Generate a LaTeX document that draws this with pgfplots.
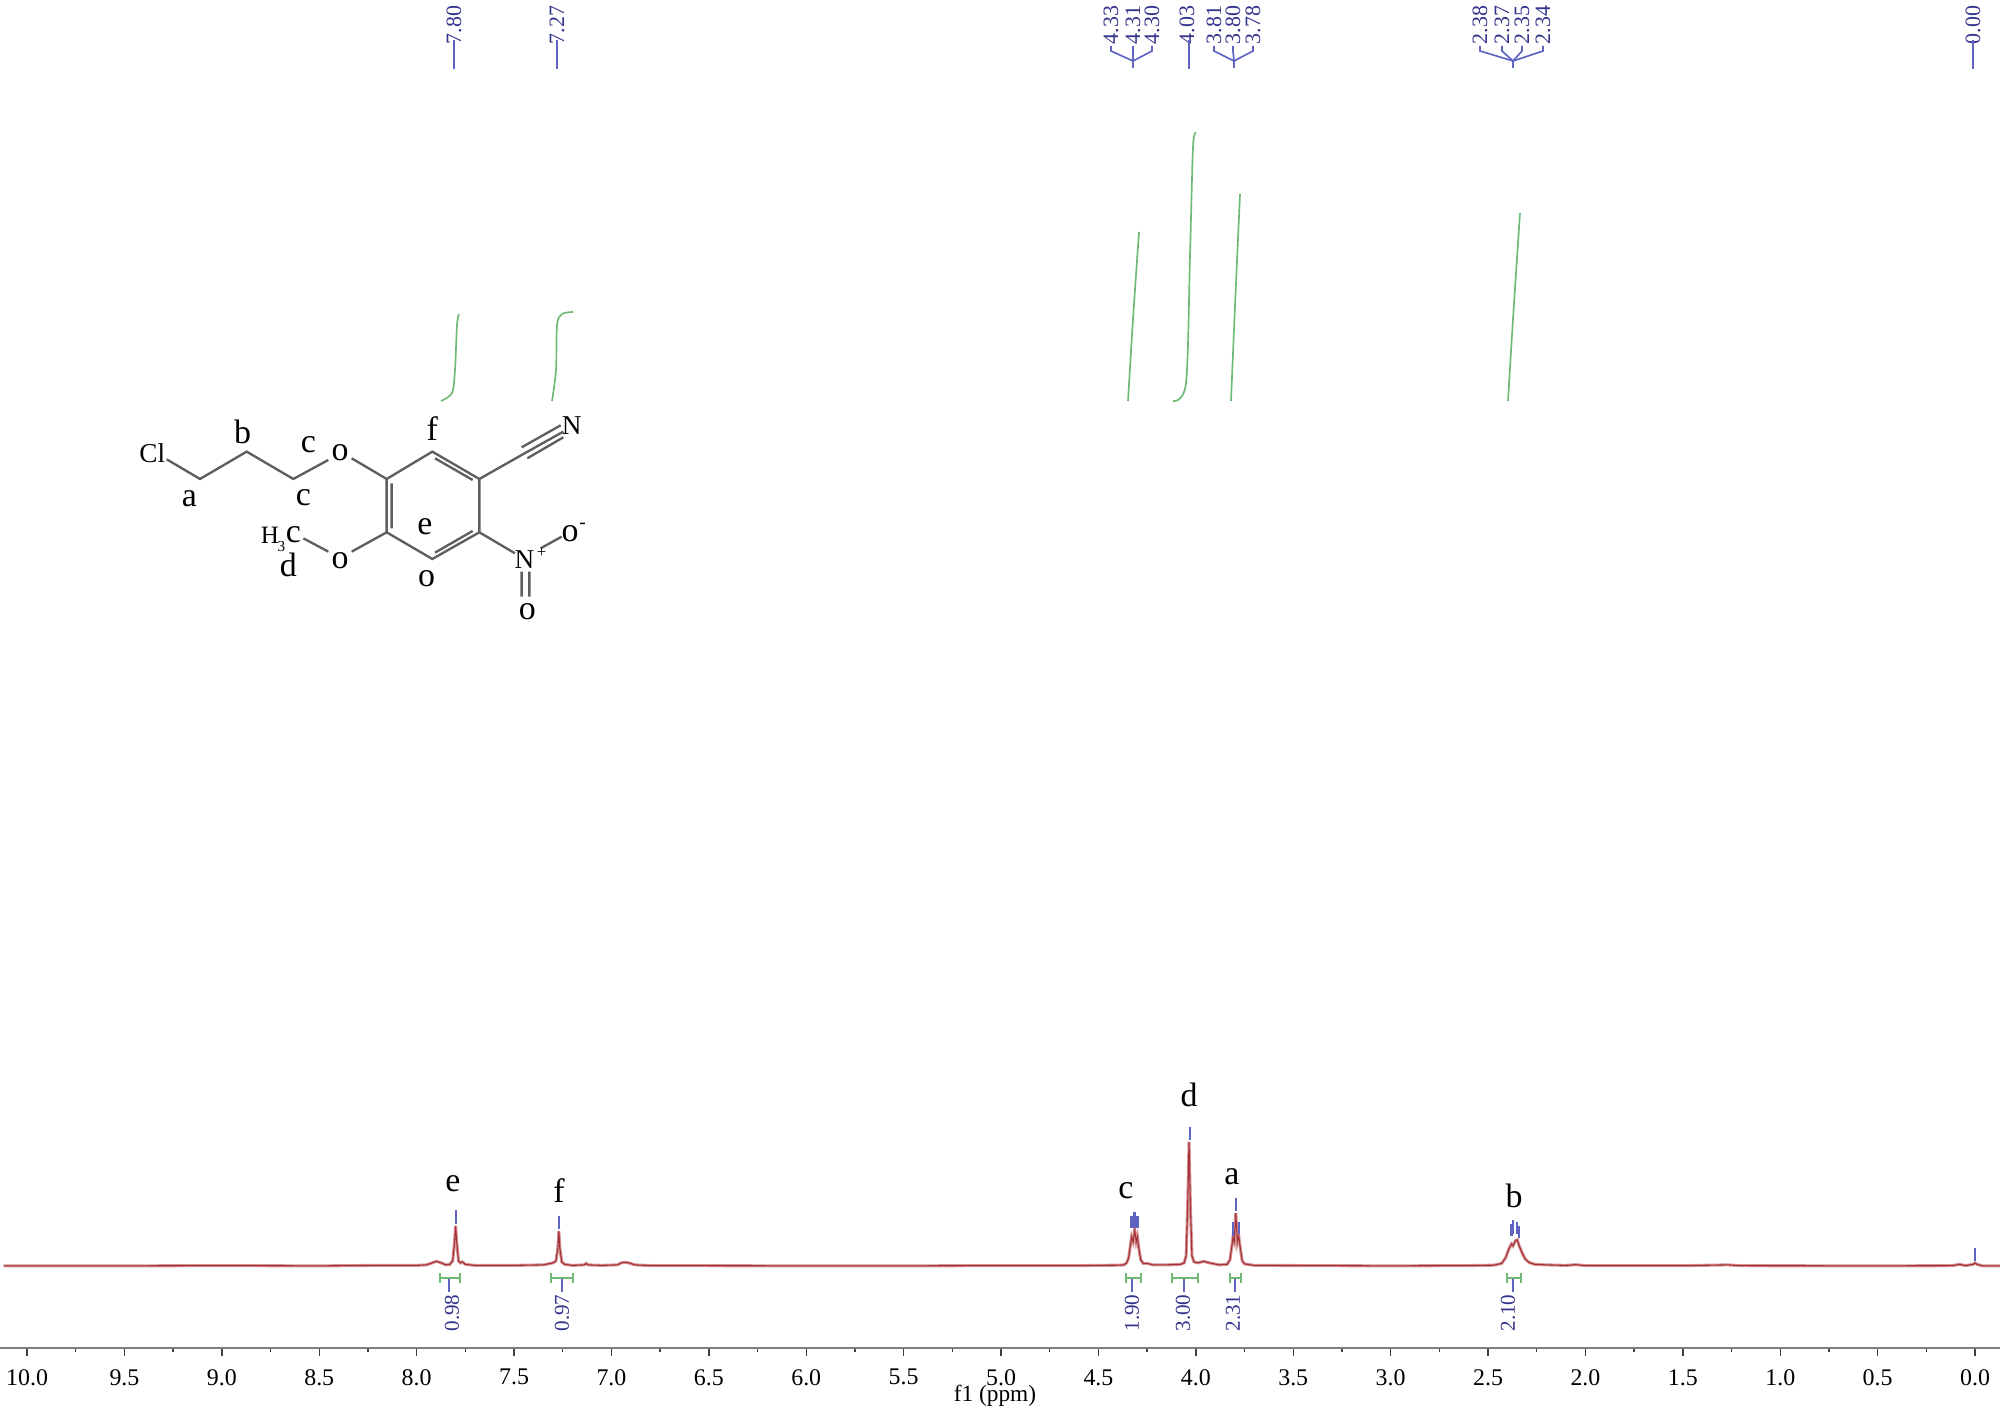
\documentclass[border=0pt]{standalone}
\usepackage{fontspec}
\setmainfont{Liberation Serif}
\usepackage{pgfplots}
\pgfplotsset{compat=1.18}
\definecolor{specdark}{RGB}{165,50,58}
\definecolor{spechalo}{RGB}{214,150,150}
\definecolor{peakblue}{RGB}{95,100,195}
\definecolor{textblue}{RGB}{52,52,140}
\definecolor{intgreen}{RGB}{110,185,115}
\definecolor{bondgray}{RGB}{95,95,95}
\definecolor{axisgray}{RGB}{125,125,125}
% spectrum: ppm, height in image pixels above the baseline
\pgfplotstableread{
x y
10.12 0
9.50 0
9.00 0.3
8.50 0
8.20 0.5
8.00 0.5
7.95 1
7.92 3
7.90 4.5
7.88 3.5
7.85 1
7.83 1.5
7.815 5
7.805 25
7.80 40
7.795 25
7.785 5
7.775 3
7.765 4
7.75 1.5
7.70 0.5
7.50 0.5
7.35 1
7.30 3
7.285 5
7.275 18
7.27 35
7.265 18
7.255 4
7.24 1.5
7.20 0.5
7.14 1
7.13 2.5
7.12 1
7.05 0.5
6.97 1
6.95 3
6.93 3.5
6.91 3
6.88 1
6.80 0.3
6.00 0
5.50 0
5.00 0.3
4.60 0.3
4.40 0.7
4.37 1
4.355 3
4.345 8
4.335 22
4.33 29
4.322 24
4.314 36
4.306 24
4.30 29
4.293 18
4.283 6
4.27 2.5
4.25 2.5
4.22 1
4.15 1
4.08 1.5
4.06 3
4.05 10
4.042 60
4.035 124
4.028 60
4.02 10
4.01 4
3.99 3
3.96 4.5
3.93 3
3.88 1
3.84 1.5
3.825 6
3.815 20
3.81 28
3.803 24
3.795 53
3.787 24
3.78 30
3.772 18
3.762 5
3.75 2
3.70 0.5
3.00 0
2.60 0.3
2.47 0.7
2.43 2.5
2.41 8
2.395 16
2.38 22
2.372 20
2.36 25
2.35 26
2.34 20
2.325 13
2.31 7
2.29 3.5
2.26 1.5
2.20 1
2.10 0.5
2.05 1.2
2.00 0.3
1.50 0.2
1.27 1
1.20 0.2
0.50 0
0.12 0.2
0.08 1.5
0.05 0.3
0.01 1.5
0.00 3
-0.01 1.5
-0.04 0
-0.128 0
}\spectrum
\begin{document}
\begin{tikzpicture}[x=1pt,y=1pt]
\useasboundingbox (0,0) rectangle (720,507.24);
% main axis, 1 image pixel = 0.36pt
\begin{axis}[
    at={(0pt,22pt)}, anchor=south west,
    scale only axis, width=720pt, height=485.24pt,
    x dir=reverse, xmin=-0.128, xmax=10.139,
    ymin=-82, ymax=1266,
    axis x line=bottom, axis y line=none,
    axis line style={-, draw=axisgray, line width=0.9pt},
    xtick={0,0.5,...,10}, minor x tick num=1,
    tick align=outside, tick style={black!75, line width=0.5pt},
    major tick length=3pt, minor tick length=1.6pt,
    x tick label style={font=\fontsize{8.6}{10}\selectfont, yshift=-1.2pt,
        /pgf/number format/.cd, fixed, fixed zerofill, precision=1, assume math mode=true},
    unbounded coords=jump,
]
\addplot[spechalo, line width=1.1pt] table[x=x,y=y] {\spectrum};
\addplot[specdark, line width=0.4pt] table[x=x,y=y] {\spectrum};
% peak picks
\addplot[peakblue, line width=0.8pt] coordinates {
    (7.80,42)(7.80,56) (7.80,nan)
    (7.27,37)(7.27,50) (7.27,nan)
    (4.33,38)(4.33,50) (4.33,nan)
    (4.315,38)(4.315,54) (4.315,nan)
    (4.30,38)(4.30,50) (4.30,nan)
    (4.03,126)(4.03,139) (4.03,nan)
    (3.81,30)(3.81,44) (3.81,nan)
    (3.795,55)(3.795,68) (3.795,nan)
    (3.78,32)(3.78,44) (3.78,nan)
    (2.38,30)(2.38,42) (2.38,nan)
    (2.37,32)(2.37,46) (2.37,nan)
    (2.35,32)(2.35,44) (2.35,nan)
    (2.34,28)(2.34,40) (2.34,nan)
    (0.00,5)(0.00,18)
};
\end{axis}
% overlay in image pixels: integrals, labels
\begin{axis}[
    at={(0pt,0pt)}, anchor=south west,
    scale only axis, width=720pt, height=507.24pt,
    xmin=0, xmax=2000, ymin=0, ymax=1409, y dir=reverse,
    hide axis, clip=false,
]
\addplot[intgreen, line width=0.6pt, smooth] coordinates {(441,401)(452,393)(455,370)(457,325)(459,314)};
\addplot[intgreen, line width=0.6pt, smooth] coordinates {(552,401)(556,370)(557,325)(562,314)(573,312)};
\addplot[intgreen, line width=0.6pt, smooth] coordinates {(1128,401)(1133,319)(1139,232)};
\addplot[intgreen, line width=0.6pt, smooth] coordinates {(1173,401)(1186,383)(1190,255)(1193,147)(1196,133)};
\addplot[intgreen, line width=0.6pt, smooth] coordinates {(1231,401)(1235,306)(1240,194)};
\addplot[intgreen, line width=0.6pt, smooth] coordinates {(1508,401)(1513,319)(1520,213)};
% integral brackets
\foreach \a/\b/\s/\l/\t in {440/460/449/452/0.98, 551/573/562/562/0.97, 1126/1141/1132/1132/1.90,
    1172/1198/1184/1183/3.00, 1230/1241/1235/1233/2.31, 1507/1521/1513/1508/2.10}{
  \edef\tmp{\noexpand\draw[intgreen, line width=0.7pt] (axis cs:\a,1278) -- (axis cs:\b,1278)
     (axis cs:\a,1273) -- (axis cs:\a,1283) (axis cs:\b,1273) -- (axis cs:\b,1283);
   \noexpand\draw[peakblue, line width=0.7pt] (axis cs:\s,1279) -- (axis cs:\s,1292);
   \noexpand\node[rotate=90, text=textblue, font=\noexpand\fontsize{7.6}{9}\noexpand\selectfont, inner sep=0pt] at (axis cs:\l,1313) {\t};}
  \tmp
}
% multiplet labels on top
\foreach \x/\t in {1111/4.33,1133/4.31,1152/4.30,1187/4.03,1214/3.81,1233/3.80,1253/3.78,
    1480/2.38,1502/2.37,1522/2.35,1543/2.34,454/7.80,557/7.27,1973/0.00}{
  \edef\tmp{\noexpand\node[rotate=90, text=textblue, font=\noexpand\fontsize{7.9}{9}\noexpand\selectfont, inner sep=0pt] at (axis cs:\x,25) {\t};}
  \tmp
}
\foreach \x in {454,557,1189,1973}{
  \edef\tmp{\noexpand\draw[peakblue, line width=0.7pt] (axis cs:\x,40) -- (axis cs:\x,69);}
  \tmp
}
\foreach \x/\c in {1111/1133,1133/1133,1152/1133,1214/1234,1233/1234,1253/1234,1480/1513,1502/1513,1522/1513,1543/1513}{
  \edef\tmp{\noexpand\draw[peakblue, line width=0.6pt] (axis cs:\x,46) -- (axis cs:\x,51) -- (axis cs:\c,61) -- (axis cs:\c,68);}
  \tmp
}
% peak letters
\foreach \x/\y/\t in {453/1184/e,559/1191/f,1126/1191/c,1189/1095/d,1232/1177/a,1514/1196/b}{
  \edef\tmp{\noexpand\node[font=\noexpand\fontsize{12.2}{14}\noexpand\selectfont, inner sep=0pt] at (axis cs:\x,\y) {\t};}
  \tmp
}
\node[font=\fontsize{8.4}{10}\selectfont, inner sep=0pt] at (axis cs:995,1396) {f1 (ppm)};
\end{axis}
% structure, coordinates in 3x zoom units around (120,400)
\begin{axis}[
    at={(0pt,0pt)}, anchor=south west,
    scale only axis, width=720pt, height=507.24pt,
    xmin=-360, xmax=5640, ymin=-1200, ymax=3027, y dir=reverse,
    hide axis, clip=false,
]
\draw[bondgray, line width=0.85pt]
    (140,178) -- (240,237) -- (380,155) -- (520,237) -- (625,180)
    (695,175) -- (800,237)
    (800,237) -- (937,155) -- (1078,237) -- (1078,397) -- (937,477) -- (800,397) -- cycle
    (815,250) -- (815,385) (945,175) -- (1058,240) (945,458) -- (1058,393)
    (1078,237) -- (1205,165) (1205,165) -- (1330,95) (1205,142) -- (1322,76) (1222,175) -- (1330,112)
    (1078,397) -- (1185,460) (1262,445) -- (1325,410)
    (1205,515) -- (1205,590) (1228,515) -- (1228,590)
    (800,397) -- (695,455) (625,455) -- (550,415);
\foreach \x/\y/\t in {97/160/Cl,1355/78/N,1213/478/N}{
  \edef\tmp{\noexpand\node[font=\noexpand\fontsize{9.8}{11}\noexpand\selectfont, inner sep=0pt] at (axis cs:\x,\y) {\t};}
  \tmp
}
\foreach \x/\y/\t in {208/295/a,368/95/b,565/135/c,550/293/c,660/158/o,937/85/f,915/380/e,920/535/o,
    660/482/o,520/405/c,505/495/d,1350/402/o,1222/635/o}{
  \edef\tmp{\noexpand\node[font=\noexpand\fontsize{12.2}{14}\noexpand\selectfont, inner sep=0pt] at (axis cs:\x,\y) {\t};}
  \tmp
}
\node[font=\fontsize{9}{11}\selectfont, inner sep=0pt] at (axis cs:450,405) {H};
\node[font=\fontsize{5.5}{7}\selectfont, inner sep=0pt] at (axis cs:484,440) {3};
\node[font=\fontsize{6}{7}\selectfont, inner sep=0pt] at (axis cs:1265,458) {+};
\node[font=\fontsize{7}{8}\selectfont, inner sep=0pt] at (axis cs:1388,378) {-};
\end{axis}
\end{tikzpicture}
\end{document}
